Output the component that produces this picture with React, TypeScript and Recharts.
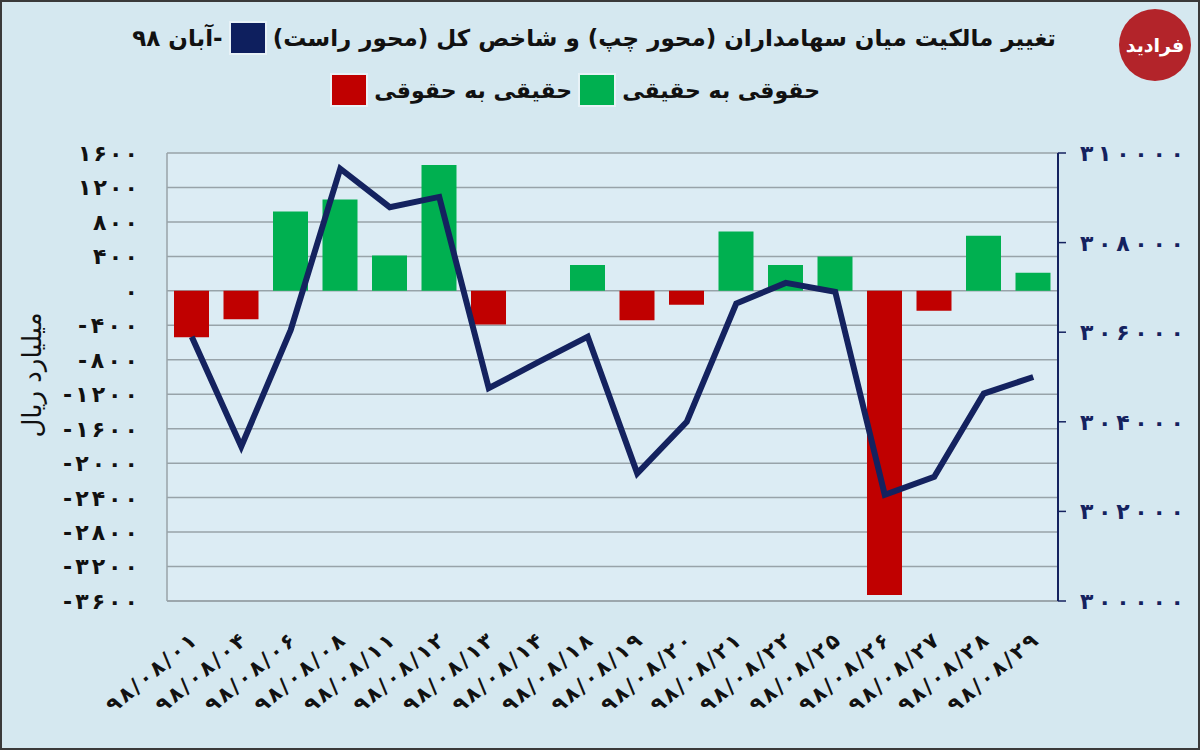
import React from "react";
import { Bar, CartesianGrid, ComposedChart, Line, XAxis, YAxis } from "recharts";

// روزهای معاملاتی آبان ۹۸
const dates = [
  "۹۸/۰۸/۰۱", "۹۸/۰۸/۰۴", "۹۸/۰۸/۰۶", "۹۸/۰۸/۰۸", "۹۸/۰۸/۱۱", "۹۸/۰۸/۱۲",
  "۹۸/۰۸/۱۳", "۹۸/۰۸/۱۴", "۹۸/۰۸/۱۸", "۹۸/۰۸/۱۹", "۹۸/۰۸/۲۰", "۹۸/۰۸/۲۱",
  "۹۸/۰۸/۲۲", "۹۸/۰۸/۲۵", "۹۸/۰۸/۲۶", "۹۸/۰۸/۲۷", "۹۸/۰۸/۲۸", "۹۸/۰۸/۲۹",
];

// حقوقی به حقیقی (میلیارد ریال)
const legalToIndividual = [0, 0, 920, 1060, 410, 1460, 0, 0, 300, 0, 0, 690, 300, 400, 0, 0, 640, 210];
// حقیقی به حقوقی (میلیارد ریال)
const individualToLegal = [-540, -330, 0, 0, 0, 0, -390, 0, 0, -340, -160, 0, 0, 0, -3530, -230, 0, 0];
// شاخص کل
const indexValues = [
  305900, 303450, 306050, 309650, 308790, 309020, 304750, 305330, 305900,
  302850, 304000, 306640, 307100, 306900, 302370, 302770, 304630, 305000,
];

const leftTicks = [-3600, -3200, -2800, -2400, -2000, -1600, -1200, -800, -400, 0, 400, 800, 1200, 1600];
const rightTicks = [300000, 302000, 304000, 306000, 308000, 310000];

const FA_DIGITS = "۰۱۲۳۴۵۶۷۸۹";
const toFa = (v: number | string) => String(v).replace(/\d/g, (d) => FA_DIGITS[+d]);

const rows = dates.map((date, i) => ({
  date,
  green: legalToIndividual[i],
  red: individualToLegal[i],
  index: indexValues[i],
}));

const FONT = "'DejaVu Sans', sans-serif";
const GRID = "#98a3a9";
const NAVY = "#14225f";

function LeftTick(props: any) {
  const { x, y, payload } = props;
  const label = toFa(payload.value);
  return (
    <text
      x={x}
      y={y}
      dy="0.36em"
      textAnchor="end"
      fontFamily={FONT}
      fontWeight="bold"
      fontSize={22}
      textLength={label.length > 1 ? label.length * 15 : undefined}
      lengthAdjust="spacing"
      fill="#111"
    >
      {label}
    </text>
  );
}

function RightTick(props: any) {
  const { x, y, payload } = props;
  return (
    <text
      x={x}
      y={y}
      dy="0.36em"
      textAnchor="start"
      fontFamily={FONT}
      fontWeight="bold"
      fontSize={22}
      textLength={104}
      lengthAdjust="spacing"
      fill={NAVY}
    >
      {toFa(payload.value)}
    </text>
  );
}

function DateTick(props: any) {
  const { x, y, payload } = props;
  return (
    <g transform={`translate(${x + 6},${y + 42})`}>
      <text
        transform="rotate(-40)"
        textAnchor="end"
        fontFamily={FONT}
        fontWeight="bold"
        fontSize={21}
        textLength={110}
        lengthAdjust="spacing"
        fill="#111"
      >
        {payload.value}
      </text>
    </g>
  );
}

function Swatch({ color }: { color: string }) {
  return (
    <span
      style={{
        display: "inline-block",
        width: 34,
        height: 30,
        background: color,
        boxShadow: "0 0 0 2px rgba(255,255,255,0.45)",
        margin: "0 8px",
      }}
    />
  );
}

export default function App() {
  return (
    <div
      style={{
        position: "relative",
        width: 1200,
        height: 750,
        background: "#d5e8f0",
        boxShadow: "inset 0 0 0 2px #3a3a3a",
        fontFamily: FONT,
        overflow: "hidden",
      }}
    >
      <style>{"body{margin:0}"}</style>

      <div
        dir="rtl"
        style={{
          position: "absolute",
          right: 144,
          top: 23,
          display: "flex",
          alignItems: "center",
          fontWeight: "bold",
          fontSize: 23,
          color: "#111",
          whiteSpace: "nowrap",
        }}
      >
        <span>تغییر مالکیت میان سهامداران (محور چپ) و شاخص کل (محور راست)</span>
        <Swatch color="#0e1f5e" />
        <span>-آبان ۹۸</span>
      </div>

      <div
        dir="rtl"
        style={{
          position: "absolute",
          right: 380,
          top: 75,
          display: "flex",
          alignItems: "center",
          fontWeight: "bold",
          fontSize: 22,
          color: "#111",
          whiteSpace: "nowrap",
        }}
      >
        <span>حقوقی به حقیقی</span>
        <Swatch color="#00b050" />
        <span>حقیقی به حقوقی</span>
        <Swatch color="#c00000" />
      </div>

      <div
        style={{
          position: "absolute",
          left: 1119,
          top: 9,
          width: 72,
          height: 72,
          borderRadius: "50%",
          background: "#b3242a",
          color: "#fff",
          display: "flex",
          alignItems: "center",
          justifyContent: "center",
          fontWeight: "bold",
          fontSize: 19,
        }}
      >
        فرادید
      </div>

      <div
        style={{
          position: "absolute",
          left: 32,
          top: 375,
          transform: "translate(-50%, -50%) rotate(-90deg)",
          fontSize: 26,
          color: "#111",
          whiteSpace: "nowrap",
        }}
      >
        میلیارد ریال
      </div>

      <div style={{ position: "absolute", left: 0, top: 0 }}>
        <ComposedChart
          width={1200}
          height={750}
          data={rows}
          margin={{ top: 153, right: 12, bottom: 9, left: 107 }}
          stackOffset="sign"
          barSize={35}
        >
          <CartesianGrid yAxisId="left" vertical={false} stroke={GRID} strokeWidth={1.5} fill="#dcecf4" />
          <XAxis
            dataKey="date"
            height={140}
            interval={0}
            axisLine={{ stroke: GRID, strokeWidth: 1.5 }}
            tickLine={false}
            tickSize={0}
            tickMargin={0}
            tick={<DateTick />}
          />
          <YAxis
            yAxisId="left"
            orientation="left"
            width={60}
            domain={[-3600, 1600]}
            ticks={leftTicks}
            interval={0}
            axisLine={{ stroke: GRID, strokeWidth: 1.5 }}
            tickLine={false}
            tickSize={0}
            tickMargin={29}
            tick={<LeftTick />}
          />
          <YAxis
            yAxisId="right"
            orientation="right"
            width={130}
            domain={[300000, 310000]}
            ticks={rightTicks}
            interval={0}
            axisLine={{ stroke: NAVY, strokeWidth: 2 }}
            tickLine={{ stroke: NAVY, strokeWidth: 1.5 }}
            tickSize={8}
            tickMargin={14}
            tick={<RightTick />}
          />
          <Bar yAxisId="left" dataKey="green" stackId="a" fill="#00b050" isAnimationActive={false} />
          <Bar yAxisId="left" dataKey="red" stackId="a" fill="#c00000" isAnimationActive={false} />
          <Line
            yAxisId="right"
            dataKey="index"
            type="linear"
            stroke={NAVY}
            strokeWidth={6}
            dot={false}
            activeDot={false}
            isAnimationActive={false}
          />
        </ComposedChart>
      </div>
    </div>
  );
}
